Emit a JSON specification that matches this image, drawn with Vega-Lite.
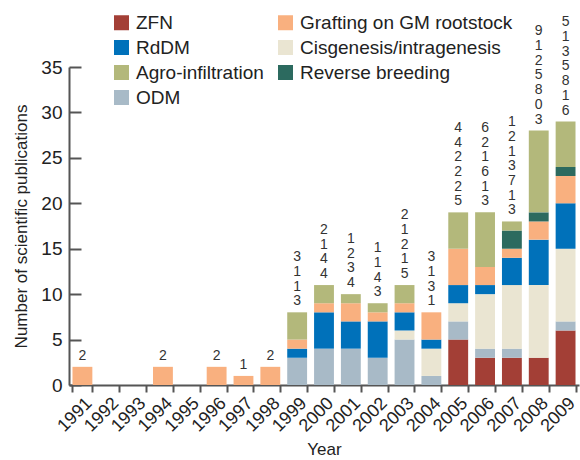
{
  "$schema": "https://vega.github.io/schema/vega-lite/v6.json",
  "width": 510,
  "height": 318,
  "autosize": "none",
  "padding": {"left": 69, "top": 67, "right": 1, "bottom": 75},
  "background": "white",
  "config": {
    "font": "Liberation Sans",
    "view": {"stroke": null},
    "axis": {"grid": false, "domainColor": "#555", "tickColor": "#555", "labelColor": "#222", "titleColor": "#222", "titleFontWeight": "normal"}
  },
  "datasets": {
    "pubs": [
      {"year": "1991", "method": "Grafting on GM rootstock", "n": 2},
      {"year": "1994", "method": "Grafting on GM rootstock", "n": 2},
      {"year": "1996", "method": "Grafting on GM rootstock", "n": 2},
      {"year": "1997", "method": "Grafting on GM rootstock", "n": 1},
      {"year": "1998", "method": "Grafting on GM rootstock", "n": 2},
      {"year": "1999", "method": "ODM", "n": 3},
      {"year": "1999", "method": "RdDM", "n": 1},
      {"year": "1999", "method": "Grafting on GM rootstock", "n": 1},
      {"year": "1999", "method": "Agro-infiltration", "n": 3},
      {"year": "2000", "method": "ODM", "n": 4},
      {"year": "2000", "method": "RdDM", "n": 4},
      {"year": "2000", "method": "Grafting on GM rootstock", "n": 1},
      {"year": "2000", "method": "Agro-infiltration", "n": 2},
      {"year": "2001", "method": "ODM", "n": 4},
      {"year": "2001", "method": "RdDM", "n": 3},
      {"year": "2001", "method": "Grafting on GM rootstock", "n": 2},
      {"year": "2001", "method": "Agro-infiltration", "n": 1},
      {"year": "2002", "method": "ODM", "n": 3},
      {"year": "2002", "method": "RdDM", "n": 4},
      {"year": "2002", "method": "Grafting on GM rootstock", "n": 1},
      {"year": "2002", "method": "Agro-infiltration", "n": 1},
      {"year": "2003", "method": "ODM", "n": 5},
      {"year": "2003", "method": "Cisgenesis/intragenesis", "n": 1},
      {"year": "2003", "method": "RdDM", "n": 2},
      {"year": "2003", "method": "Grafting on GM rootstock", "n": 1},
      {"year": "2003", "method": "Agro-infiltration", "n": 2},
      {"year": "2004", "method": "ODM", "n": 1},
      {"year": "2004", "method": "Cisgenesis/intragenesis", "n": 3},
      {"year": "2004", "method": "RdDM", "n": 1},
      {"year": "2004", "method": "Grafting on GM rootstock", "n": 3},
      {"year": "2005", "method": "ZFN", "n": 5},
      {"year": "2005", "method": "ODM", "n": 2},
      {"year": "2005", "method": "Cisgenesis/intragenesis", "n": 2},
      {"year": "2005", "method": "RdDM", "n": 2},
      {"year": "2005", "method": "Grafting on GM rootstock", "n": 4},
      {"year": "2005", "method": "Agro-infiltration", "n": 4},
      {"year": "2006", "method": "ZFN", "n": 3},
      {"year": "2006", "method": "ODM", "n": 1},
      {"year": "2006", "method": "Cisgenesis/intragenesis", "n": 6},
      {"year": "2006", "method": "RdDM", "n": 1},
      {"year": "2006", "method": "Grafting on GM rootstock", "n": 2},
      {"year": "2006", "method": "Agro-infiltration", "n": 6},
      {"year": "2007", "method": "ZFN", "n": 3},
      {"year": "2007", "method": "ODM", "n": 1},
      {"year": "2007", "method": "Cisgenesis/intragenesis", "n": 7},
      {"year": "2007", "method": "RdDM", "n": 3},
      {"year": "2007", "method": "Grafting on GM rootstock", "n": 1},
      {"year": "2007", "method": "Reverse breeding", "n": 2},
      {"year": "2007", "method": "Agro-infiltration", "n": 1},
      {"year": "2008", "method": "ZFN", "n": 3},
      {"year": "2008", "method": "ODM", "n": 0},
      {"year": "2008", "method": "Cisgenesis/intragenesis", "n": 8},
      {"year": "2008", "method": "RdDM", "n": 5},
      {"year": "2008", "method": "Grafting on GM rootstock", "n": 2},
      {"year": "2008", "method": "Reverse breeding", "n": 1},
      {"year": "2008", "method": "Agro-infiltration", "n": 9},
      {"year": "2009", "method": "ZFN", "n": 6},
      {"year": "2009", "method": "ODM", "n": 1},
      {"year": "2009", "method": "Cisgenesis/intragenesis", "n": 8},
      {"year": "2009", "method": "RdDM", "n": 5},
      {"year": "2009", "method": "Grafting on GM rootstock", "n": 3},
      {"year": "2009", "method": "Reverse breeding", "n": 1},
      {"year": "2009", "method": "Agro-infiltration", "n": 5}
    ],
    "labels": [
      {"year": "1991", "label": ["2"]},
      {"year": "1994", "label": ["2"]},
      {"year": "1996", "label": ["2"]},
      {"year": "1997", "label": ["1"]},
      {"year": "1998", "label": ["2"]},
      {"year": "1999", "label": ["3","1","1","3"]},
      {"year": "2000", "label": ["2","1","4","4"]},
      {"year": "2001", "label": ["1","2","3","4"]},
      {"year": "2002", "label": ["1","1","4","3"]},
      {"year": "2003", "label": ["2","1","2","1","5"]},
      {"year": "2004", "label": ["3","1","3","1"]},
      {"year": "2005", "label": ["4","4","2","2","2","5"]},
      {"year": "2006", "label": ["6","2","1","6","1","3"]},
      {"year": "2007", "label": ["1","2","1","3","7","1","3"]},
      {"year": "2008", "label": ["9","1","2","5","8","0","3"]},
      {"year": "2009", "label": ["5","1","3","5","8","1","6"]}
    ]
  },
  "data": {"name": "pubs"},
  "layer": [
    {
      "transform": [
        {"calculate": "indexof(['ZFN','ODM','Cisgenesis/intragenesis','RdDM','Grafting on GM rootstock','Reverse breeding','Agro-infiltration'], datum.method)", "as": "stackRank"}
      ],
      "mark": {"type": "bar"},
      "encoding": {
        "x": {
          "field": "year", "type": "ordinal",
          "scale": {"domain": ["1991","1992","1993","1994","1995","1996","1997","1998","1999","2000","2001","2002","2003","2004","2005","2006","2007","2008","2009"], "paddingInner": 0.26, "paddingOuter": 0.13},
          "axis": {"title": "Year", "titleFontSize": 17, "titlePadding": 6, "labelAngle": -45, "labelFontSize": 18, "tickBand": "extent", "tickSize": 7, "tickWidth": 2, "domainWidth": 2, "labelPadding": 2}
        },
        "y": {
          "field": "n", "type": "quantitative", "aggregate": "sum", "stack": "zero",
          "scale": {"domain": [0, 35], "nice": false},
          "axis": {"title": "Number of scientific publications", "titleFontSize": 17, "titlePadding": 10, "values": [0,5,10,15,20,25,30,35], "labelFontSize": 19, "tickSize": -12, "tickWidth": 2, "domainWidth": 2, "labelPadding": 19}
        },
        "color": {
          "field": "method", "type": "nominal",
          "scale": {
            "domain": ["ZFN", "RdDM", "Agro-infiltration", "ODM", "Grafting on GM rootstock", "Cisgenesis/intragenesis", "Reverse breeding"],
            "range": ["#A33F36", "#0071BA", "#B3B87B", "#A8BAC7", "#F9B07F", "#EAE5D2", "#2C6A5F"]
          },
          "legend": {
            "title": null, "orient": "none", "legendX": 43, "legendY": -54, "columns": 2, "direction": "vertical",
            "symbolType": "square", "symbolSize": 225, "symbolStrokeWidth": 0, "symbolOpacity": 1,
            "labelFontSize": 19, "labelColor": "#222", "labelOffset": 5, "rowPadding": 5, "columnPadding": 12, "labelLimit": 300, "padding": 0
          }
        },
        "order": {"field": "stackRank", "type": "quantitative", "aggregate": "min"}
      }
    },
    {
      "transform": [
        {"aggregate": [{"op": "sum", "field": "n", "as": "total"}], "groupby": ["year"]},
        {"lookup": "year", "from": {"data": {"name": "labels"}, "key": "year", "fields": ["label"]}}
      ],
      "mark": {"type": "text", "baseline": "bottom", "lineHeight": 14.7, "fontSize": 14, "color": "#333", "dy": {"expr": "-4 - (length(datum.label) - 1) * 14.7"}},
      "encoding": {
        "x": {"field": "year", "type": "ordinal"},
        "y": {"field": "total", "type": "quantitative"},
        "text": {"field": "label"}
      }
    }
  ]
}
